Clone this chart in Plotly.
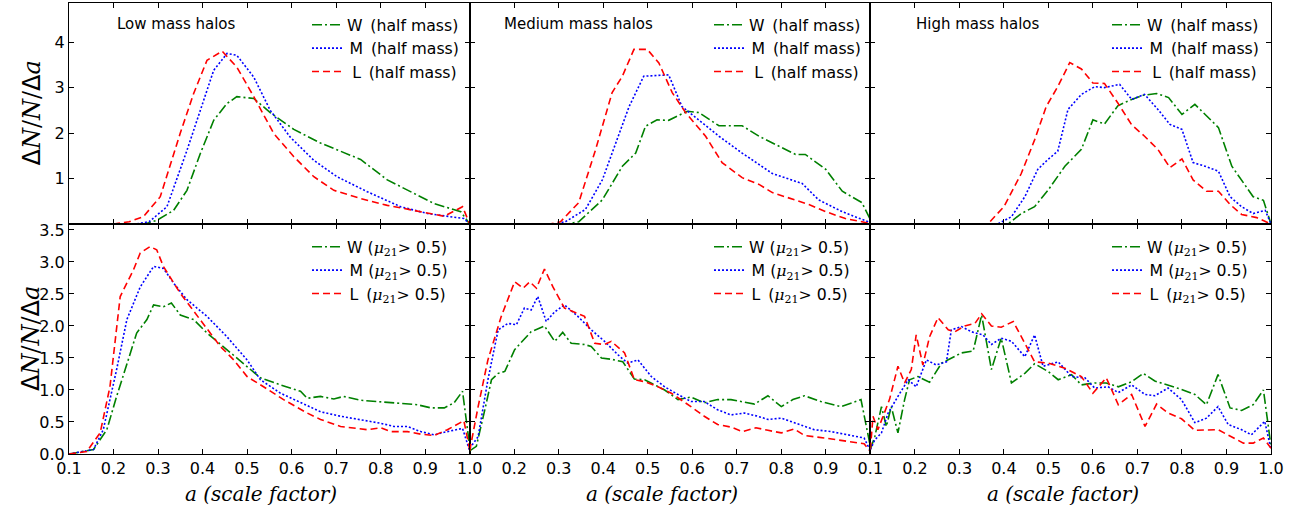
import plotly.graph_objects as go
from plotly.subplots import make_subplots

# ---------------- data: top row (half-mass epoch) ----------------
A_LOW_HALF_W = [0.1, 0.27, 0.297, 0.335, 0.365, 0.395, 0.425, 0.455, 0.477, 0.515, 0.552, 0.605, 0.665, 0.71, 0.755, 0.815, 0.875, 0.92, 0.98, 1.0]
N_LOW_HALF_W = [0, 0, 0.08, 0.3, 0.74, 1.55, 2.28, 2.65, 2.8, 2.76, 2.45, 2.08, 1.78, 1.6, 1.42, 0.97, 0.67, 0.45, 0.27, 0]
A_LOW_HALF_M = [0.1, 0.25, 0.28, 0.32, 0.365, 0.395, 0.425, 0.455, 0.477, 0.515, 0.552, 0.597, 0.65, 0.702, 0.77, 0.845, 0.905, 0.987, 1.0]
N_LOW_HALF_M = [0, 0, 0.05, 0.38, 1.62, 2.5, 3.38, 3.75, 3.71, 3.23, 2.5, 1.91, 1.4, 1.04, 0.71, 0.38, 0.23, 0.12, 0]
A_LOW_HALF_L = [0.1, 0.2, 0.235, 0.267, 0.305, 0.35, 0.38, 0.41, 0.444, 0.477, 0.515, 0.56, 0.605, 0.65, 0.695, 0.755, 0.815, 0.905, 0.943, 0.984, 1.0]
N_LOW_HALF_L = [0, 0, 0.05, 0.16, 0.6, 2.0, 2.87, 3.6, 3.8, 3.45, 2.8, 1.99, 1.48, 1.04, 0.74, 0.56, 0.41, 0.23, 0.17, 0.38, 0]

A_MED_HALF_W = [0.1, 0.32, 0.345, 0.398, 0.443, 0.473, 0.495, 0.521, 0.547, 0.589, 0.615, 0.66, 0.712, 0.75, 0.795, 0.832, 0.854, 0.9, 0.937, 0.981, 1.0]
N_MED_HALF_W = [0, 0, 0.05, 0.53, 1.27, 1.56, 2.15, 2.29, 2.28, 2.48, 2.45, 2.16, 2.16, 1.93, 1.71, 1.53, 1.53, 1.2, 0.72, 0.47, 0.1]
A_MED_HALF_M = [0.1, 0.29, 0.315, 0.36, 0.398, 0.428, 0.458, 0.491, 0.525, 0.547, 0.577, 0.615, 0.66, 0.712, 0.78, 0.847, 0.884, 0.937, 1.0]
N_MED_HALF_M = [0, 0, 0.05, 0.32, 0.97, 1.78, 2.58, 3.25, 3.26, 3.28, 2.58, 2.29, 1.93, 1.56, 1.11, 0.89, 0.53, 0.27, 0.03]
A_MED_HALF_L = [0.1, 0.28, 0.304, 0.345, 0.383, 0.42, 0.443, 0.469, 0.499, 0.525, 0.555, 0.585, 0.63, 0.667, 0.712, 0.75, 0.78, 0.817, 0.862, 0.9, 0.944, 0.996, 1.0]
N_MED_HALF_L = [0, 0, 0.05, 0.47, 1.64, 2.89, 3.25, 3.84, 3.84, 3.54, 2.89, 2.45, 1.93, 1.35, 1.02, 0.87, 0.69, 0.58, 0.43, 0.27, 0.12, 0.02, 0]

A_HIGH_HALF_W = [0.1, 0.409, 0.439, 0.469, 0.499, 0.537, 0.574, 0.6, 0.626, 0.656, 0.687, 0.713, 0.743, 0.77, 0.8, 0.829, 0.855, 0.882, 0.912, 0.934, 0.96, 0.983, 1.0]
N_HIGH_HALF_W = [0, 0, 0.23, 0.38, 0.74, 1.27, 1.64, 2.29, 2.2, 2.6, 2.74, 2.83, 2.87, 2.78, 2.41, 2.63, 2.38, 2.12, 1.27, 0.97, 0.6, 0.52, 0]
A_HIGH_HALF_M = [0.1, 0.386, 0.417, 0.447, 0.476, 0.499, 0.521, 0.544, 0.574, 0.604, 0.626, 0.66, 0.687, 0.716, 0.746, 0.773, 0.8, 0.825, 0.852, 0.882, 0.908, 0.934, 0.96, 0.987, 1.0]
N_HIGH_HALF_M = [0, 0, 0.16, 0.6, 1.2, 1.42, 1.6, 2.52, 2.85, 3.02, 3.0, 3.07, 2.74, 2.85, 2.52, 2.19, 2.08, 1.35, 1.27, 1.16, 0.6, 0.38, 0.23, 0.3, 0]
A_HIGH_HALF_L = [0.1, 0.364, 0.4, 0.439, 0.469, 0.495, 0.521, 0.548, 0.574, 0.6, 0.626, 0.656, 0.687, 0.716, 0.746, 0.773, 0.8, 0.825, 0.855, 0.882, 0.908, 0.934, 0.968, 1.0]
N_HIGH_HALF_L = [0, 0, 0.38, 1.11, 1.85, 2.58, 3.02, 3.55, 3.41, 3.1, 3.09, 2.66, 2.18, 1.93, 1.64, 1.24, 1.43, 0.97, 0.72, 0.72, 0.43, 0.21, 0.14, 0]

# ---------------- data: bottom row (mu21 > 0.5) ----------------
A_LOW_MU_W = [0.1, 0.155, 0.185, 0.207, 0.233, 0.252, 0.275, 0.29, 0.312, 0.33, 0.35, 0.38, 0.41, 0.455, 0.5, 0.53, 0.575, 0.62, 0.635, 0.665, 0.695, 0.717, 0.755, 0.8, 0.845, 0.882, 0.913, 0.943, 0.965, 0.984, 1.0]
N_LOW_MU_W = [0, 0.07, 0.38, 0.9, 1.47, 1.89, 2.1, 2.33, 2.3, 2.36, 2.17, 2.1, 1.89, 1.63, 1.37, 1.19, 1.08, 0.98, 0.87, 0.9, 0.86, 0.9, 0.84, 0.82, 0.79, 0.77, 0.72, 0.72, 0.8, 0.98, 0.12]
A_LOW_MU_M = [0.1, 0.155, 0.177, 0.207, 0.23, 0.26, 0.29, 0.312, 0.335, 0.365, 0.41, 0.455, 0.5, 0.53, 0.575, 0.62, 0.665, 0.71, 0.755, 0.8, 0.83, 0.86, 0.89, 0.92, 0.95, 0.984, 1.0]
N_LOW_MU_M = [0, 0.07, 0.38, 1.32, 2.1, 2.61, 2.93, 2.9, 2.67, 2.41, 2.15, 1.83, 1.47, 1.16, 0.95, 0.8, 0.66, 0.59, 0.54, 0.48, 0.43, 0.43, 0.35, 0.3, 0.35, 0.4, 0.05]
A_LOW_MU_L = [0.1, 0.14, 0.17, 0.192, 0.215, 0.245, 0.26, 0.282, 0.297, 0.312, 0.35, 0.395, 0.44, 0.47, 0.5, 0.537, 0.582, 0.635, 0.665, 0.71, 0.77, 0.8, 0.822, 0.86, 0.89, 0.92, 0.95, 0.987, 1.0]
N_LOW_MU_L = [0, 0.04, 0.33, 1.05, 2.46, 2.88, 3.14, 3.24, 3.19, 2.93, 2.51, 2.1, 1.68, 1.47, 1.21, 1.05, 0.85, 0.64, 0.54, 0.43, 0.38, 0.41, 0.35, 0.35, 0.31, 0.29, 0.38, 0.52, 0.07]

A_MED_MU_W = [0.1, 0.115, 0.134, 0.149, 0.164, 0.179, 0.201, 0.238, 0.268, 0.291, 0.309, 0.328, 0.358, 0.373, 0.396, 0.418, 0.444, 0.47, 0.493, 0.538, 0.568, 0.597, 0.627, 0.657, 0.687, 0.71, 0.74, 0.77, 0.8, 0.826, 0.852, 0.889, 0.934, 0.979, 1.0]
N_MED_MU_W = [0.05, 0.12, 0.69, 1.16, 1.26, 1.29, 1.63, 1.91, 2.0, 1.76, 1.9, 1.73, 1.71, 1.68, 1.5, 1.48, 1.44, 1.17, 1.16, 1.0, 0.85, 0.89, 0.8, 0.85, 0.85, 0.82, 0.78, 0.91, 0.74, 0.85, 0.91, 0.82, 0.74, 0.85, 0.12]
A_MED_MU_M = [0.1, 0.119, 0.141, 0.164, 0.186, 0.205, 0.223, 0.238, 0.253, 0.272, 0.291, 0.313, 0.343, 0.373, 0.403, 0.433, 0.455, 0.478, 0.508, 0.538, 0.568, 0.597, 0.627, 0.657, 0.687, 0.717, 0.747, 0.77, 0.8, 0.837, 0.874, 0.912, 0.949, 0.986, 1.0]
N_MED_MU_M = [0.09, 0.27, 1.16, 1.94, 2.04, 2.02, 2.28, 2.25, 2.46, 2.07, 2.22, 2.33, 2.15, 1.94, 1.76, 1.55, 1.42, 1.47, 1.21, 1.05, 0.93, 0.82, 0.82, 0.69, 0.61, 0.64, 0.59, 0.54, 0.56, 0.47, 0.38, 0.35, 0.3, 0.25, 0.05]
A_MED_MU_L = [0.1, 0.119, 0.141, 0.171, 0.201, 0.22, 0.235, 0.25, 0.268, 0.287, 0.313, 0.343, 0.358, 0.381, 0.403, 0.418, 0.448, 0.47, 0.493, 0.523, 0.553, 0.597, 0.627, 0.657, 0.687, 0.713, 0.743, 0.77, 0.8, 0.829, 0.852, 0.897, 0.942, 0.986, 1.0]
N_MED_MU_L = [0.05, 0.74, 1.47, 2.15, 2.69, 2.59, 2.69, 2.59, 2.89, 2.61, 2.28, 2.2, 2.15, 1.73, 1.71, 1.76, 1.58, 1.16, 1.13, 1.05, 0.95, 0.74, 0.59, 0.46, 0.42, 0.35, 0.41, 0.37, 0.33, 0.39, 0.29, 0.25, 0.21, 0.16, 0.04]

A_HIGH_MU_W = [0.1, 0.11, 0.125, 0.136, 0.147, 0.162, 0.177, 0.188, 0.207, 0.233, 0.26, 0.305, 0.331, 0.35, 0.372, 0.394, 0.417, 0.447, 0.469, 0.499, 0.522, 0.552, 0.574, 0.604, 0.63, 0.657, 0.687, 0.713, 0.739, 0.769, 0.799, 0.829, 0.855, 0.881, 0.908, 0.934, 0.96, 0.983, 1.0]
N_HIGH_MU_W = [0.07, 0.27, 0.74, 0.43, 0.74, 0.33, 0.85, 1.16, 1.21, 1.12, 1.42, 1.58, 1.61, 2.17, 1.32, 1.81, 1.11, 1.26, 1.41, 1.29, 1.16, 1.24, 1.08, 1.11, 1.11, 1.05, 1.13, 1.26, 1.14, 1.08, 1.01, 0.93, 0.77, 1.24, 0.72, 0.68, 0.77, 1.0, 0.12]
A_HIGH_MU_M = [0.1, 0.11, 0.125, 0.14, 0.162, 0.185, 0.203, 0.226, 0.248, 0.271, 0.282, 0.305, 0.327, 0.353, 0.372, 0.394, 0.417, 0.447, 0.469, 0.488, 0.522, 0.552, 0.582, 0.604, 0.634, 0.657, 0.687, 0.717, 0.739, 0.769, 0.799, 0.829, 0.855, 0.881, 0.904, 0.934, 0.956, 0.986, 1.0]
N_HIGH_MU_M = [0.07, 0.22, 0.33, 0.64, 0.9, 1.16, 1.05, 1.47, 1.39, 1.44, 1.94, 1.99, 1.91, 1.86, 1.71, 1.81, 1.76, 1.52, 1.86, 1.37, 1.44, 1.21, 1.19, 1.03, 1.05, 0.96, 1.08, 0.93, 0.91, 1.03, 0.85, 0.49, 0.56, 0.74, 0.46, 0.38, 0.3, 0.51, 0.07]
A_HIGH_MU_L = [0.1, 0.106, 0.117, 0.132, 0.143, 0.162, 0.177, 0.192, 0.203, 0.218, 0.233, 0.252, 0.275, 0.29, 0.312, 0.335, 0.35, 0.372, 0.394, 0.421, 0.443, 0.469, 0.499, 0.537, 0.574, 0.6, 0.63, 0.657, 0.687, 0.717, 0.743, 0.769, 0.799, 0.829, 0.881, 0.911, 0.938, 0.96, 0.983, 1.0]
N_HIGH_MU_L = [0.07, 0.59, 0.38, 0.66, 0.85, 1.37, 1.11, 1.32, 1.86, 1.39, 1.83, 2.13, 1.94, 1.91, 2.0, 2.04, 2.19, 2.0, 1.98, 2.07, 1.78, 1.44, 1.42, 1.34, 1.21, 0.95, 1.19, 0.77, 0.93, 0.43, 0.78, 0.64, 0.55, 0.37, 0.38, 0.27, 0.17, 0.17, 0.25, 0.09]

SERIF = "DejaVu Serif"
MU = f"<span style='font-family:{SERIF}'><i>μ</i><sub>21</sub>&gt;</span>"
PANEL_TITLES = ["Low mass halos", "Medium mass halos", "High mass halos"]
TOP_NAMES = ["W\u2002(half mass)", "\u2006M\u2002(half mass)", "\u2004L\u2002(half mass)"]
BOT_NAMES = [f"W ({MU} 0.5)", f"\u2006M ({MU} 0.5)", f"\u2006L\u2002({MU} 0.5)"]
X_TICKS = [0.1, 0.2, 0.3, 0.4, 0.5, 0.6, 0.7, 0.8, 0.9, 1.0]
X_TICKS_MID = [0.2, 0.3, 0.4, 0.5, 0.6, 0.7, 0.8, 0.9]
TOP_Y_TICKS = [1, 2, 3, 4]
BOT_Y_TICKS = [0.0, 0.5, 1.0, 1.5, 2.0, 2.5, 3.0, 3.5]

TOP = [
    [(A_LOW_HALF_W, N_LOW_HALF_W), (A_LOW_HALF_M, N_LOW_HALF_M), (A_LOW_HALF_L, N_LOW_HALF_L)],
    [(A_MED_HALF_W, N_MED_HALF_W), (A_MED_HALF_M, N_MED_HALF_M), (A_MED_HALF_L, N_MED_HALF_L)],
    [(A_HIGH_HALF_W, N_HIGH_HALF_W), (A_HIGH_HALF_M, N_HIGH_HALF_M), (A_HIGH_HALF_L, N_HIGH_HALF_L)],
]
BOT = [
    [(A_LOW_MU_W, N_LOW_MU_W), (A_LOW_MU_M, N_LOW_MU_M), (A_LOW_MU_L, N_LOW_MU_L)],
    [(A_MED_MU_W, N_MED_MU_W), (A_MED_MU_M, N_MED_MU_M), (A_MED_MU_L, N_MED_MU_L)],
    [(A_HIGH_MU_W, N_HIGH_MU_W), (A_HIGH_MU_M, N_HIGH_MU_M), (A_HIGH_MU_L, N_HIGH_MU_L)],
]

STYLES = [
    dict(color="#008000", dash="10px,3px,2px,3px"),
    dict(color="#0000ff", dash="2px,2px"),
    dict(color="#ff0000", dash="7px,4px"),
]

FONT = "DejaVu Sans"
W, H = 1299, 512
ML, MR, MT, MB = 69, 28, 3, 58
PW = W - ML - MR
PH = H - MT - MB

fig = make_subplots(rows=2, cols=3, horizontal_spacing=0, vertical_spacing=0,
                    row_heights=[221, 230])

legend_idx = 0
for row, data, names in [(1, TOP, TOP_NAMES), (2, BOT, BOT_NAMES)]:
    for col in range(1, 4):
        legend_idx += 1
        lname = "legend" if legend_idx == 1 else f"legend{legend_idx}"
        for k, (xs, ys) in enumerate(data[col - 1]):
            fig.add_trace(go.Scatter(
                x=xs, y=ys, mode="lines", name=names[k],
                line=dict(width=1.6, **STYLES[k]),
                legend=lname, hoverinfo="skip"), row=row, col=col)

        if row == 1:
            x_right_px = [464, 866, 1264][col - 1]
            y_top_px = 8
        else:
            x_right_px = [453, 855, 1253][col - 1]
            y_top_px = 230
        fig.update_layout({lname: dict(
            x=(x_right_px - ML) / PW, xanchor="right",
            y=1 - (y_top_px - MT) / PH, yanchor="top",
            bgcolor="rgba(0,0,0,0)", borderwidth=0,
            font=dict(family=FONT, size=15.7, color="black"),
            itemwidth=30,
        )})

axis_common = dict(showline=True, linecolor="black", linewidth=1, mirror="ticks",
                   ticks="inside", ticklen=5, tickwidth=1, tickcolor="black",
                   showgrid=False, zeroline=False,
                   tickfont=dict(family=FONT, size=16, color="black"))

for col in range(1, 4):
    fig.update_xaxes(range=[0.1, 1.0], tickvals=X_TICKS, showticklabels=False,
                     row=1, col=col, **axis_common)
    ticks = X_TICKS_MID if col == 2 else X_TICKS
    fig.update_xaxes(range=[0.1, 1.0], tickvals=ticks,
                     ticktext=[f"{v:.1f}" for v in ticks],
                     row=2, col=col, **axis_common)
    fig.update_yaxes(range=[0, 4.86], tickvals=TOP_Y_TICKS,
                     ticktext=[str(v) for v in TOP_Y_TICKS],
                     showticklabels=(col == 1), row=1, col=col, **axis_common)
    fig.update_yaxes(range=[0, 3.593], tickvals=BOT_Y_TICKS,
                     ticktext=[f"{v:.1f}" for v in BOT_Y_TICKS],
                     showticklabels=(col == 1), row=2, col=col, **axis_common)

annotations = []
for col, (title, xpx) in enumerate(zip(PANEL_TITLES, [115, 502, 914]), start=1):
    annotations.append(dict(text=title, xref="paper", yref="paper",
                            x=(xpx - ML) / PW, y=1 - (24 - MT) / PH,
                            xanchor="left", yanchor="middle", showarrow=False,
                            font=dict(family=FONT, size=15, color="black")))
YTITLE = (f"Δ<span style='font-family:{SERIF}'><i>N</i>/<i>N</i>/</span>"
          f"Δ<span style='font-family:{SERIF}'><i>a</i></span>")
for ypx in [113.5, 339]:
    annotations.append(dict(text=YTITLE, xref="paper", yref="paper",
                            x=(31 - ML) / PW, y=1 - (ypx - MT) / PH, textangle=-90,
                            xanchor="center", yanchor="middle", showarrow=False,
                            font=dict(family=FONT, size=24, color="black")))
for col, xref in enumerate(["x4 domain", "x5 domain", "x6 domain"], start=1):
    annotations.append(dict(text="<i>a (scale factor)</i>", xref=xref, yref="paper",
                            x=0.5 - 8 / 400, y=-(494 - (H - MB)) / PH,
                            xanchor="center", yanchor="middle", showarrow=False,
                            font=dict(family=SERIF, size=20, color="black")))

fig.update_layout(
    width=W, height=H, margin=dict(l=ML, r=MR, t=MT, b=MB, autoexpand=False),
    paper_bgcolor="white", plot_bgcolor="white",
    annotations=annotations, showlegend=True,
    font=dict(family=FONT, color="black"),
)

fig.write_html("out.html", config={"displayModeBar": False},
               post_script="document.body.style.margin='0';document.body.style.overflow='hidden';")
